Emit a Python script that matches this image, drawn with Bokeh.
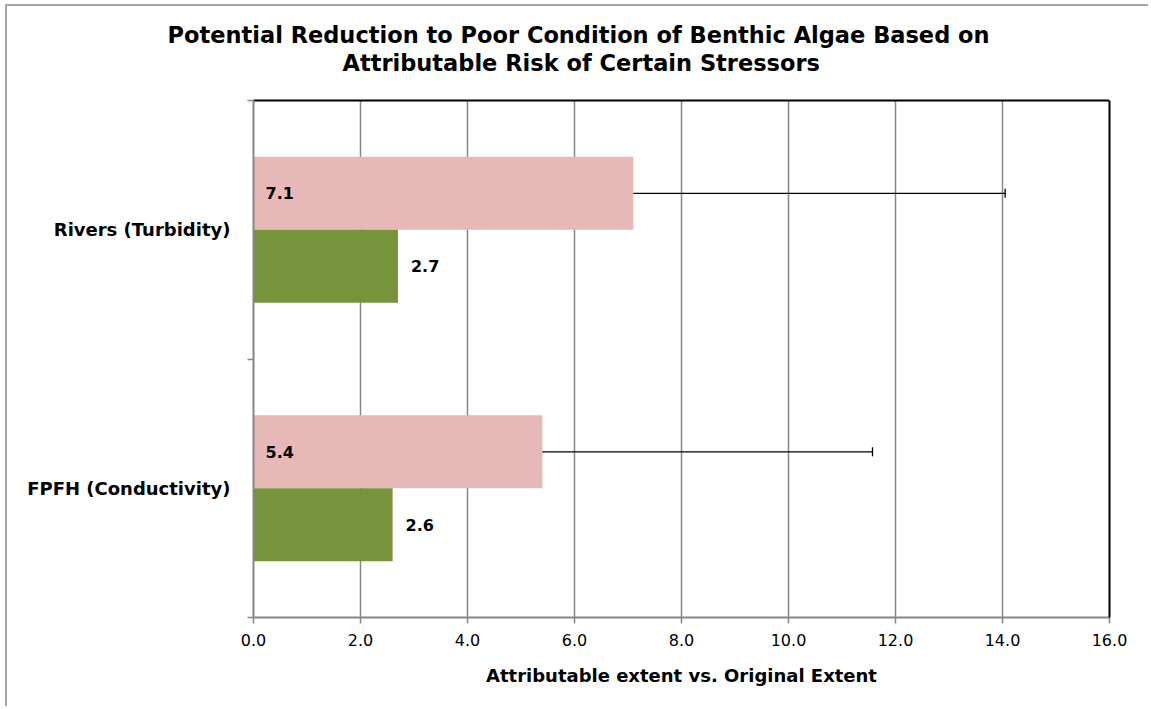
from bokeh.plotting import figure
from bokeh.models import (Range1d, FixedTicker, LinearAxis, ColumnDataSource, Whisker,
                          TeeHead, LabelSet, NumeralTickFormatter, Title)
from bokeh.embed import file_html
from bokeh.resources import INLINE
from bokeh.core.properties import value

# ---- data ----
categories = ["FPFH (Conductivity)", "Rivers (Turbidity)"]
pink_values = [5.4, 7.1]
green_values = [2.6, 2.7]
pink_err_low = [3.57, 5.15]
pink_err_high = [11.57, 14.05]
x_ticks = [0, 2, 4, 6, 8, 10, 12, 14, 16]
title_lines = ["Potential Reduction to Poor Condition of Benthic Algae Based on",
               "Attributable Risk of Certain Stressors"]
x_axis_label = "Attributable extent vs. Original Extent"

# ---- style ----
PINK = "#E6B9B8"
GREEN = "#77933C"
GRAY = "#868686"
FONT = "DejaVu Sans"

n = len(categories)
centers = [i + 0.5 for i in range(n)]
bar_h = 0.282
off = 0.141

p = figure(width=1143, height=702, output_backend="svg", toolbar_location=None,
           x_range=Range1d(0, 16), y_range=Range1d(0, n),
           min_border_left=246, min_border_right=41, min_border_top=94, min_border_bottom=91)
p.margin = (4, 0, 0, 5)
p.stylesheets = [":host { border-top: 2px solid #a6a6a6; border-left: 2px solid #a6a6a6; }"]
p.outline_line_color = None
p.background_fill_color = "white"
p.border_fill_color = "white"

p.xgrid.ticker = FixedTicker(ticks=x_ticks)
p.xgrid.grid_line_color = GRAY
p.xgrid.grid_line_width = 1.5
p.ygrid.grid_line_color = None

# x axis
xa = p.xaxis[0]
xa.ticker = FixedTicker(ticks=x_ticks)
xa.formatter = NumeralTickFormatter(format="0.0")
xa.axis_line_color = GRAY
xa.axis_line_width = 2
xa.major_tick_out = 6
xa.major_tick_in = 0
xa.major_tick_line_color = GRAY
xa.major_tick_line_width = 1.5
xa.minor_tick_line_color = None
xa.major_label_text_font = FONT
xa.major_label_text_font_size = "16px"
xa.major_label_text_color = "black"
xa.major_label_standoff = 10
xa.axis_label = x_axis_label
xa.axis_label_text_font = FONT
xa.axis_label_text_font_style = "bold"
xa.axis_label_text_font_size = "18px"
xa.axis_label_text_color = "black"
xa.axis_label_standoff = 16

# y axis
ya = p.yaxis[0]
ya.ticker = FixedTicker(ticks=centers, minor_ticks=[float(i) for i in range(n + 1)])
ya.major_label_overrides = {c: name for c, name in zip(centers, categories)}
ya.axis_line_color = GRAY
ya.axis_line_width = 2
ya.major_tick_out = 0
ya.major_tick_in = 0
ya.minor_tick_out = 6
ya.minor_tick_in = 0
ya.minor_tick_line_color = GRAY
ya.minor_tick_line_width = 1.5
ya.major_label_text_font = FONT
ya.major_label_text_font_style = "bold"
ya.major_label_text_font_size = "18px"
ya.major_label_text_color = "black"
ya.major_label_standoff = 17

# black top edge; its single white (invisible) tick reserves the gap below the title
x_end = x_ticks[-1]
top_axis = LinearAxis(ticker=FixedTicker(ticks=[x_end]), axis_line_color="black", axis_line_width=2,
                      major_tick_out=25, major_tick_in=0, minor_tick_out=0, minor_tick_in=0,
                      major_tick_line_color="white", major_tick_line_width=1,
                      major_label_overrides={x_end: ""},
                      major_label_text_font_size="0px", major_label_standoff=0)
right_axis = LinearAxis(ticker=FixedTicker(ticks=[]), axis_line_color="black", axis_line_width=2,
                        major_tick_out=0, major_tick_in=0, minor_tick_out=0, minor_tick_in=0,
                        major_label_text_font_size="0px", major_label_standoff=0)
p.add_layout(top_axis, "above")
p.add_layout(right_axis, "right")

# title: two lines (second line nearest the frame)
p.add_layout(Title(text=title_lines[1], align="left", offset=89, standoff=0,
                   text_font=FONT, text_font_style="bold", text_font_size="22.5px",
                   text_color="black"), "above")
p.add_layout(Title(text=title_lines[0], align="left", offset=-86, standoff=0,
                   text_font=FONT, text_font_style="bold", text_font_size="22.5px",
                   text_color="black"), "above")

# bars
pink_src = ColumnDataSource(dict(
    y=[c + off for c in centers], right=pink_values, zero=[0] * n,
    low=pink_err_low, high=pink_err_high,
    label=[f"{v:.1f}" for v in pink_values]))
green_src = ColumnDataSource(dict(
    y=[c - off for c in centers], right=green_values,
    label=[f"{v:.1f}" for v in green_values]))

p.hbar(y="y", left=0, right="right", height=bar_h, source=pink_src,
       fill_color=PINK, line_color=None)
p.hbar(y="y", left=0, right="right", height=bar_h, source=green_src,
       fill_color=GREEN, line_color=None)

wh = Whisker(base="y", lower="low", upper="high", dimension="width", source=pink_src,
             line_color="black", line_width=1.3,
             lower_head=TeeHead(size=9, line_color="black", line_width=1.3),
             upper_head=TeeHead(size=9, line_color="black", line_width=1.3))
p.add_layout(wh)

p.add_layout(LabelSet(x="zero", y="y", text="label", source=pink_src, x_offset=12,
                      text_baseline="middle", text_align="left",
                      text_font=value(FONT), text_font_style="bold",
                      text_font_size="16px", text_color="black"))
p.add_layout(LabelSet(x="right", y="y", text="label", source=green_src, x_offset=13,
                      text_baseline="middle", text_align="left",
                      text_font=value(FONT), text_font_style="bold",
                      text_font_size="16px", text_color="black"))

open("out.html", "w").write(file_html(p, INLINE))
